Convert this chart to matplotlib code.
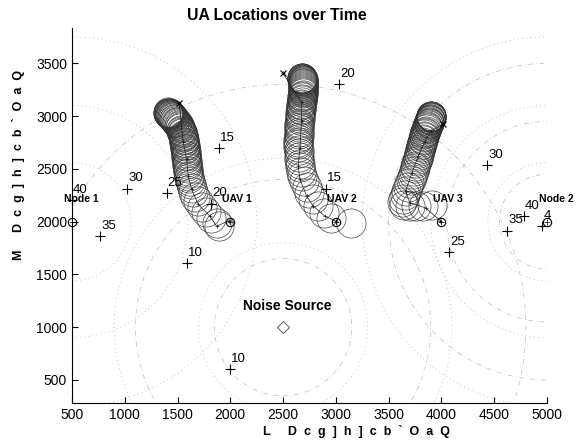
import matplotlib
matplotlib.use("Agg")
import matplotlib.pyplot as plt
from matplotlib.patches import Circle

plt.rcParams['font.family'] = ['Liberation Sans', 'DejaVu Sans']

# ---- data ----
title = "UA Locations over Time"
xlabel = "L     D  c  g  ]  h  ]  c  b  `  O  a  Q"
ylabel = "M     D  c  g  ]  h  ]  c  b  `  O  a  Q"
xticks = [500, 1000, 1500, 2000, 2500, 3000, 3500, 4000, 4500, 5000]
yticks = [500, 1000, 1500, 2000, 2500, 3000, 3500]

# UAV circle trails (centres)
trail1_x = [1410, 1412, 1414, 1416, 1418, 1420, 1423, 1426, 1429, 1432, 1436, 1440, 1444, 1448,
            1453, 1458, 1463, 1468, 1474, 1480, 1486, 1492, 1498, 1504, 1510, 1516, 1522, 1527,
            1532, 1537, 1541, 1545, 1549, 1552, 1555, 1558, 1561, 1564, 1566, 1569, 1571, 1573,
            1575, 1577, 1579, 1581, 1583, 1585, 1587, 1589, 1591, 1594, 1597, 1600, 1603, 1607,
            1612, 1618, 1626, 1637, 1651, 1670, 1695, 1728, 1770, 1820, 1870, 1890]
trail1_y = [3035, 3033, 3031, 3029, 3027, 3024, 3021, 3018, 3015, 3011, 3007, 3003, 2998, 2993,
            2988, 2982, 2976, 2970, 2963, 2956, 2948, 2940, 2932, 2923, 2914, 2904, 2894, 2883,
            2872, 2861, 2849, 2837, 2825, 2812, 2799, 2786, 2772, 2758, 2744, 2729, 2714, 2699,
            2684, 2668, 2652, 2636, 2619, 2602, 2584, 2566, 2547, 2527, 2506, 2484, 2461, 2437,
            2411, 2383, 2352, 2318, 2280, 2238, 2192, 2142, 2090, 2035, 1985, 1960]
trail2_x = [2680, 2681, 2682, 2683, 2684, 2685, 2686, 2687, 2688, 2689, 2690, 2690, 2691, 2691,
            2691, 2691, 2691, 2690, 2690, 2689, 2688, 2687, 2686, 2685, 2684, 2682, 2680, 2678,
            2676, 2674, 2672, 2670, 2668, 2666, 2664, 2662, 2660, 2658, 2656, 2654, 2652, 2651,
            2650, 2649, 2648, 2647, 2646, 2646, 2646, 2646, 2647, 2648, 2650, 2653, 2657, 2663,
            2671, 2683, 2700, 2722, 2750, 2785, 2830, 2885, 2950, 3140]
trail2_y = [3365, 3362, 3359, 3356, 3352, 3348, 3344, 3339, 3334, 3329, 3323, 3317, 3310, 3303,
            3295, 3287, 3278, 3269, 3259, 3249, 3238, 3227, 3215, 3203, 3190, 3177, 3163, 3149,
            3134, 3119, 3103, 3087, 3070, 3053, 3035, 3017, 2998, 2979, 2959, 2939, 2918, 2897,
            2875, 2853, 2830, 2806, 2782, 2757, 2731, 2704, 2676, 2647, 2616, 2584, 2550, 2513,
            2473, 2430, 2382, 2330, 2272, 2210, 2145, 2085, 2035, 1985]
trail3_x = [3905, 3904, 3903, 3902, 3901, 3900, 3898, 3896, 3894, 3892, 3890, 3887, 3884, 3881,
            3878, 3875, 3871, 3867, 3863, 3859, 3855, 3851, 3847, 3843, 3839, 3835, 3831, 3827,
            3823, 3819, 3815, 3811, 3806, 3801, 3796, 3791, 3786, 3780, 3774, 3768, 3761, 3754,
            3746, 3738, 3729, 3719, 3708, 3696, 3683, 3668, 3652, 3636, 3622, 3650, 3700, 3760,
            3830, 3910]
trail3_y = [3005, 3002, 2999, 2995, 2991, 2987, 2982, 2977, 2972, 2966, 2960, 2953, 2946, 2939,
            2931, 2923, 2914, 2905, 2895, 2885, 2874, 2863, 2851, 2839, 2826, 2813, 2799, 2785,
            2770, 2755, 2739, 2723, 2706, 2689, 2671, 2653, 2634, 2614, 2594, 2573, 2551, 2528,
            2504, 2479, 2453, 2425, 2395, 2363, 2328, 2290, 2252, 2215, 2185, 2160, 2150, 2145,
            2150, 2160]

# centre lines of the trails
path1_x = [1516, 1554, 1586, 1601, 1634, 1696, 1807, 1870, 1990]
path1_y = [3124, 2750, 2591, 2433, 2306, 2163, 2052, 1957, 2010]
path2_x = [2501, 2675, 2675, 2659, 2643, 2659, 2723, 2785, 2896, 3000]
path2_y = [3405, 3129, 2955, 2702, 2528, 2401, 2243, 2148, 2052, 2005]
path3_x = [4016, 3900, 3840, 3780, 3720, 3660, 3700, 3850, 3990]
path3_y = [2924, 2860, 2750, 2620, 2460, 2290, 2180, 2130, 2010]

# start markers (x)
start_x = [1516, 2501, 4016]
start_y = [3124, 3405, 2924]

# UAVs and nodes
uav_x = [2000, 3000, 4000]
uav_y = [2000, 2000, 2000]
uav_names = ["UAV 1", "UAV 2", "UAV 3"]
node_x = [500, 5000]
node_y = [2000, 2000]
node_names = ["Node 1", "Node 2"]
noise_x = [2500]
noise_y = [1000]
noise_name = "Noise Source"

# labelled crosses
cross_x = [1592, 1895, 1821, 1397, 1024, 765, 500,
           2000, 2902, 3028,
           4073, 4433, 4622, 4783, 4957]
cross_y = [1609, 2693, 2170, 2268, 2313, 1862, 2204,
           605, 2313, 3304,
           1710, 2537, 1916, 2052, 1957]
cross_labels = ["10", "15", "20", "25", "30", "35", "40",
                "10", "15", "20",
                "25", "30", "35", "40", "4"]

# background range rings
dot_cx = [500, 500, 500, 5000, 5000, 5000, 2500, 2500]
dot_cy = [2000, 2000, 2000, 2000, 2000, 2000, 1000, 1000]
dot_r = [560, 1100, 1750, 560, 1100, 1750, 800, 1600]
dd_cx = [2500, 2500, 2500, 5000, 5000, 5000]
dd_cy = [1000, 1000, 1000, 2000, 2000, 2000]
dd_r = [650, 1400, 2300, 450, 950, 1500]

# ---- figure ----
fig = plt.figure(figsize=(5.85, 4.47), dpi=100)
ax = fig.add_axes([0.123, 0.098, 0.812, 0.839])

for cx, cy, r in zip(dot_cx, dot_cy, dot_r):
    ax.add_patch(Circle((cx, cy), r, fill=False, ls=(0, (1, 4)), lw=0.6, ec='0.72'))
for cx, cy, r in zip(dd_cx, dd_cy, dd_r):
    ax.add_patch(Circle((cx, cy), r, fill=False, ls=(0, (7, 4, 1, 4)), lw=0.5, ec='0.75'))

for tx, ty in [(trail1_x, trail1_y), (trail2_x, trail2_y), (trail3_x, trail3_y)]:
    ax.plot(tx, ty, 'o', ms=21, mfc='none', mec='0.2', mew=0.45, ls='none')

for px, py in [(path1_x, path1_y), (path2_x, path2_y), (path3_x, path3_y)]:
    ax.plot(px, py, '-', color='0.1', lw=0.5, marker='+', ms=3, mew=0.5)

ax.plot(start_x, start_y, 'x', color='k', ms=5, mew=0.8, ls='none')

ax.plot(uav_x, uav_y, 'o', ms=6, mfc='none', mec='k', mew=0.8, ls='none')
ax.plot(uav_x, uav_y, '+', ms=5, color='k', mew=0.5, ls='none')
ax.plot(node_x, node_y, 'o', ms=6, mfc='none', mec='k', mew=0.8, ls='none', clip_on=False)
ax.plot(node_x, node_y, '+', ms=5, color='k', mew=0.5, ls='none', clip_on=False)
for x, y, n in zip(uav_x + node_x, uav_y + node_y, uav_names + node_names):
    ax.text(x - 80, y + 210, n, fontsize=7.5, fontweight='bold', ha='left', va='center',
            clip_on=False)

ax.plot(noise_x, noise_y, 'D', ms=6, mfc='none', mec='0.35', mew=0.7, ls='none')
ax.text(noise_x[0] + 40, noise_y[0] + 200, noise_name, fontsize=10, fontweight='bold',
        ha='center', va='center')

ax.plot(cross_x, cross_y, '+', color='k', ms=7, mew=0.8, ls='none', clip_on=False)
for x, y, l in zip(cross_x, cross_y, cross_labels):
    ax.text(x + 10, y + 40, l, fontsize=9.5, ha='left', va='bottom', clip_on=False)

ax.set_xlim(500, 5000)
ax.set_ylim(280, 3833)
ax.set_xticks(xticks)
ax.set_yticks(yticks)
ax.tick_params(direction='in', length=4, labelsize=10, width=0.8)
for s in ['top', 'right']:
    ax.spines[s].set_visible(False)
ax.set_title(title, fontsize=11.3, fontweight='bold', pad=6, x=0.432)
ax.text(0.60, -0.075, xlabel, transform=ax.transAxes, fontsize=9, fontweight='bold',
        ha='center', va='center')
ax.text(-0.113, 0.635, ylabel, transform=ax.transAxes, fontsize=9, fontweight='bold',
        ha='center', va='center', rotation=90)

fig.savefig("out.png", dpi=100)
